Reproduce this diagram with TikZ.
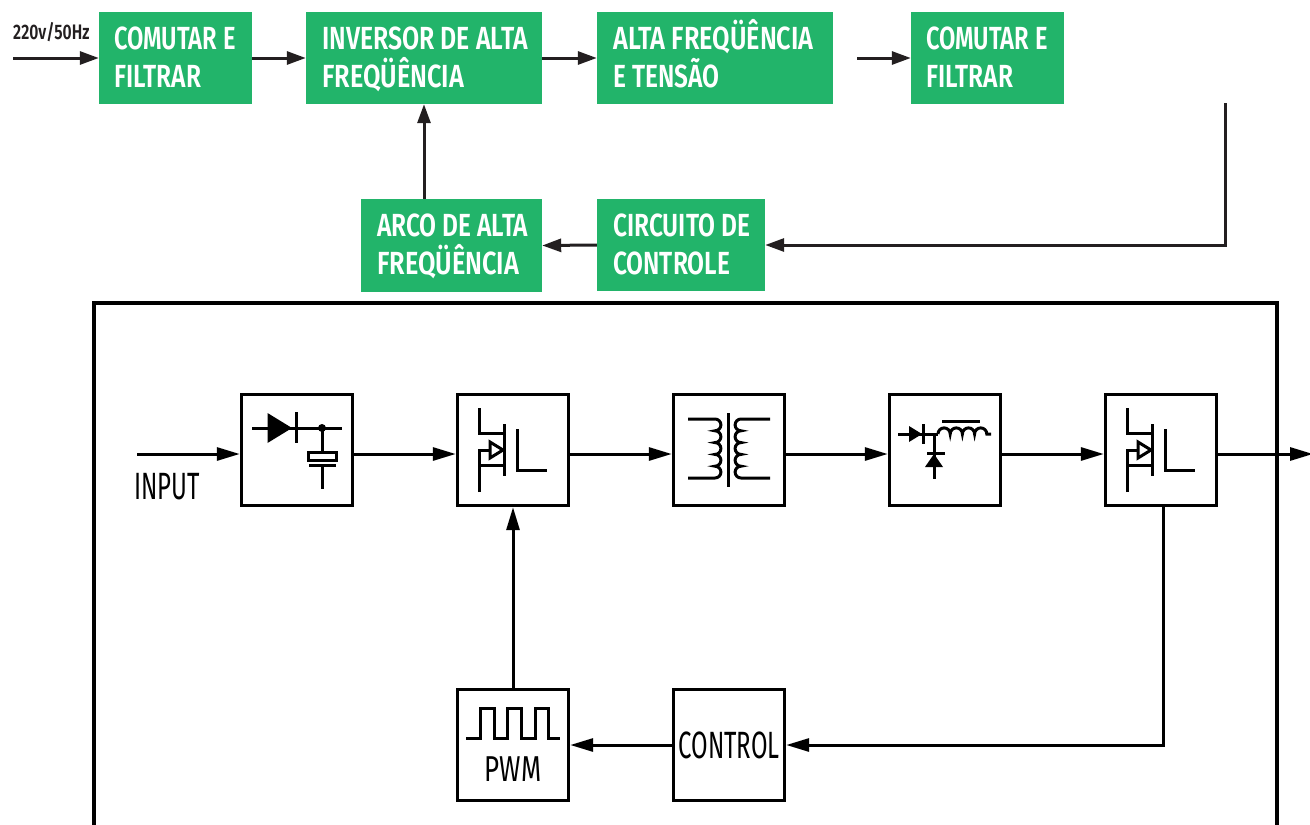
\documentclass[tikz,border=0pt]{standalone}
\usepackage{fontspec}
\usetikzlibrary{arrows.meta}
\newfontfamily\dinbold[FakeStretch=0.765]{Fira Sans SemiBold}
\newfontfamily\dintight[FakeStretch=0.74]{Fira Sans SemiBold}
\newfontfamily\dinmid[FakeStretch=0.776]{Fira Sans SemiBold}
\newfontfamily\dinwide[FakeStretch=0.79]{Fira Sans SemiBold}
\newfontfamily\dinlabel[FakeStretch=0.75]{Fira Sans SemiBold}
\newfontfamily\dinlight[FakeStretch=0.63]{Fira Sans}
\newfontfamily\dinpwm[FakeStretch=0.72]{Fira Sans}
\newcommand{\fl}{\rule{0pt}{34pt}}
\definecolor{boxgreen}{HTML}{22B46A}
\definecolor{ink}{HTML}{231F20}
\tikzset{
  x=1pt,y=-1pt,
  greenbox/.style={fill=boxgreen,inner sep=0pt},
  greentext/.style={text=white,inner sep=0pt,align=left,anchor=north west,
    font=\dinbold\fontsize{32}{38.5}\selectfont},
  topline/.style={draw=ink,line width=3pt,-{Triangle[length=19pt,width=13pt]}},
  panelbox/.style={draw=black,line width=3.4pt,fill=white,minimum width=111pt,minimum height=111pt,inner sep=0pt},
  botline/.style={draw=black,line width=3pt,-{Triangle[length=23pt,width=13pt]}},
  icon/.style={draw=black,line width=3pt},
  lbl/.style={font=\dinlight\fontsize{38}{40}\selectfont,text=black,inner sep=0pt}
}
\begin{document}
\begin{tikzpicture}
\useasboundingbox (0,0) rectangle (1310,825);
% top diagram
\node[greenbox,minimum width=153pt,minimum height=92pt] (t1) at (175.5,58) {};
\node[greenbox,minimum width=236pt,minimum height=92pt] (t2) at (424,58) {};
\node[greenbox,minimum width=236pt,minimum height=92pt] (t3) at (715,58) {};
\node[greenbox,minimum width=153pt,minimum height=92pt] (t4) at (987.5,58) {};
\node[greenbox,minimum width=168pt,minimum height=92pt] (t5) at (681,245) {};
\node[greenbox,minimum width=181pt,minimum height=93pt] (t6) at (451.5,245.5) {};
\node[greentext] (tx1) at (114,15) {\fl{\dintight COMUTAR E}\\FILTRAR};
\node[greentext] (tx2) at (322,15) {\fl{\dinmid INVERSOR DE ALTA}\\{\dinwide FREQÜÊNCIA}};
\node[greentext] (tx3) at (613,15) {\fl{\dinwide ALTA FREQÜÊNCIA}\\E TENSÃO};
\node[greentext] (tx4) at (926,15) {\fl{\dintight COMUTAR E}\\FILTRAR};
\node[greentext] (tx5) at (613,202) {\fl CIRCUITO DE\\CONTROLE};
\node[greentext] (tx6) at (377,202) {\fl ARCO DE ALTA\\{\dinwide FREQÜÊNCIA}};
\node[anchor=base west,inner sep=0pt,text=ink,font=\dinlabel\fontsize{21}{24}\selectfont] (volt) at (13,39) {220v/50Hz};
\coordinate (in1) at (13,58);
\coordinate (gap) at (857,58);
\coordinate (fb) at (1225,103);
\draw[topline] (in1) -- (t1.west);
\draw[topline] (t1.east) -- (t2.west);
\draw[topline] (t2.east) -- (t3.west);
\draw[topline] (gap) -- (t4.west);
\draw[topline] (fb) |- (t5.east);
\draw[topline] (t5.west) -- (t6.east);
\draw[topline] (t6.north -| t2.south) -- (t2.south);
% panel
\draw[draw=black,line width=3.2pt] (94,830) -- (94,303) -- (1277,303) -- (1277,830);
\node[panelbox] (a) at (297,450) {};
\node[panelbox] (b) at (513,450) {};
\node[panelbox] (c) at (729,450) {};
\node[panelbox] (d) at (945,450) {};
\node[panelbox] (e) at (1161,450) {};
\node[panelbox] (pwm) at (513,745) {};
\node[panelbox,font=\dinlight\fontsize{38}{40}\selectfont] (ctl) at (729,745) {CONTROL};
\node[inner sep=0pt,font=\dinpwm\fontsize{36}{40}\selectfont] (pwmt) at (513,769) {PWM};
\node[lbl,anchor=west] (inp) at (134,487) {INPUT};
\coordinate (i0) at (137,454);
\coordinate (o0) at (1313,454);
\draw[botline] (i0) -- ([yshift=-4pt]a.west);
\draw[botline] ([yshift=-4pt]a.east) -- ([yshift=-4pt]b.west);
\draw[botline] ([yshift=-4pt]b.east) -- ([yshift=-4pt]c.west);
\draw[botline] ([yshift=-4pt]c.east) -- ([yshift=-4pt]d.west);
\draw[botline] ([yshift=-4pt]d.east) -- ([yshift=-4pt]e.west);
\draw[botline] ([yshift=-4pt]e.east) -- (o0);
\draw[botline] ([xshift=2pt]e.south) |- (ctl.east);
\draw[botline] (ctl.west) -- (pwm.east);
\draw[botline] (pwm.north) -- (b.south);
% rectifier icon
\draw[icon] (252,428) -- (342,428);
\fill[black] (267.5,413) -- (292,428) -- (267.5,443) -- cycle;
\draw[icon] (296.7,412) -- (296.7,443);
\fill[black] (322,428) circle[radius=4];
\draw[icon] (322,428) -- (322,452);
\draw[icon] (308.5,452) rectangle (336.5,460);
\draw[icon] (309,465) -- (336,465);
\draw[icon] (322,465) -- (322,489);
% mosfets
\foreach \dx in {0,648}{
  \begin{scope}[xshift=\dx pt]
  \draw[icon] (479.3,408) -- (479.3,433) -- (504.3,433);
  \draw[icon] (504.3,424) -- (504.3,476);
  \draw[icon] (479.3,492) -- (479.3,450) -- (490,450);
  \draw[icon] (479.3,465) -- (504.3,465);
  \draw[icon,fill=white] (490,442) -- (503,450) -- (490,458) -- cycle;
  \draw[icon] (517.7,429) -- (517.7,470) -- (547,470);
  \end{scope}
}
% transformer
\draw[icon] (728,413) -- (728,487);
\draw[icon] (688,419) -- (715,419)
  arc[start angle=-90,end angle=90,radius=5.9] arc[start angle=-90,end angle=90,radius=5.9] arc[start angle=-90,end angle=90,radius=5.9] arc[start angle=-90,end angle=90,radius=5.9] arc[start angle=-90,end angle=90,radius=5.9] -- (688,478);
\draw[icon] (770,419) -- (741,419)
  arc[start angle=270,end angle=90,radius=5.9] arc[start angle=270,end angle=90,radius=5.9] arc[start angle=270,end angle=90,radius=5.9] arc[start angle=270,end angle=90,radius=5.9] arc[start angle=270,end angle=90,radius=5.9] -- (770,478);
% buck icon
\draw[icon] (898,434) -- (938,434);
\fill[black] (909,426) -- (922,434) -- (909,442) -- cycle;
\draw[icon] (923,424) -- (923,444);
\draw[icon] (938,434) arc[start angle=180,end angle=360,radius=6.1] arc[start angle=180,end angle=360,radius=6.1] arc[start angle=180,end angle=360,radius=6.1] arc[start angle=180,end angle=360,radius=6.1] -- (991,434);
\draw[icon] (942,421) -- (980,421);
\draw[icon] (934,434) -- (934,479);
\draw[icon] (927,453) -- (945,453);
\fill[black] (934,454) -- (943,467) -- (925,467) -- cycle;
% pwm wave
\draw[icon] (466,738) -- (480,738) -- (480,708) -- (494,708) -- (494,738) -- (507,738) -- (507,708) -- (521,708) -- (521,738) -- (535,738) -- (535,708) -- (548,708) -- (548,738) -- (560,738);
\end{tikzpicture}
\end{document}
